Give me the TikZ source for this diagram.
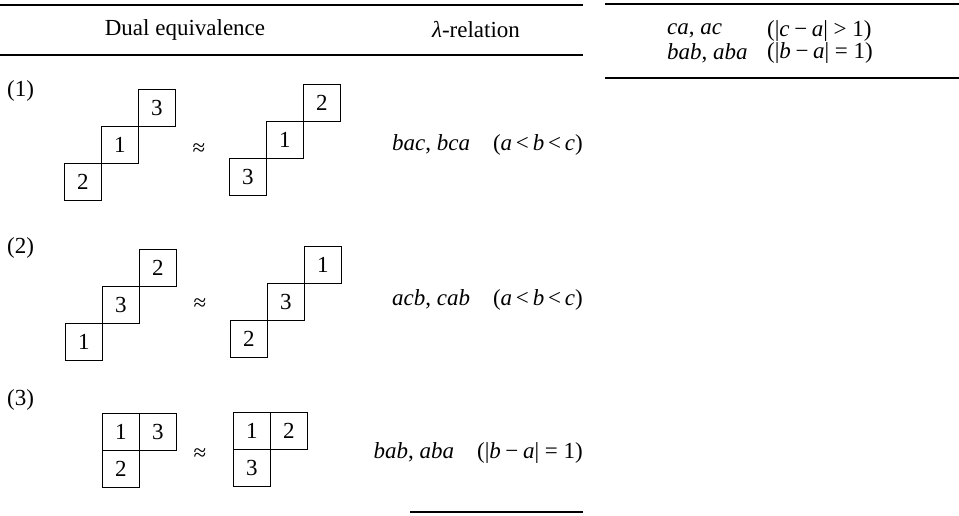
\documentclass[tikz,border=0pt]{standalone}
\usepackage{fontspec}
\setmainfont{Liberation Serif}
% spacing around binary operators and relations in the formulas
\newcommand{\opsp}{\hspace{0.2em}}
\newcommand{\relsp}{\hspace{0.25em}}
\begin{document}
\begin{tikzpicture}[x=1pt,y=-1pt,
  every node/.style={font=\fontsize{23}{25}\selectfont},
  cell/.style={draw, line width=0.8pt, minimum size=37pt, inner sep=0pt, anchor=north west},
  rule/.style={line width=1.2pt},
  lbl/.style={anchor=west, inner sep=0pt},
  rel/.style={anchor=east, inner sep=0pt}]
\useasboundingbox (0,0) rectangle (959,515);

% left table: rules and column heads
\draw[rule] (0,5) -- (583,5);
\node (hdual) at (185,30) {Dual equivalence};
\node (hlam) at (476,30) {\textit{λ}-relation};
\draw[rule] (0,55) -- (583,55);

% right table
\draw[rule] (605,4) -- (959,4);
\node[lbl] (r1a) at (667,31) {\textit{ca}, \textit{ac}};
\node[lbl] (r1b) at (767,31) {(|\textit{c}\opsp−\opsp\textit{a}|\relsp>\relsp1)};
\node[lbl] (r2a) at (667,53) {\textit{bab}, \textit{aba}};
\node[lbl] (r2b) at (767,53) {(|\textit{b}\opsp−\opsp\textit{a}|\relsp=\relsp1)};
\draw[rule] (605,78) -- (959,78);

% row (1)
\node[lbl] (n1) at (7,91) {(1)};
\node[cell] (p1c) at (138,89) {3};
\node[cell] (p1b) at (101,126) {1};
\node[cell] (p1a) at (64,163) {2};
\node (e1) at (199,150) {≈};
\node[cell] (q1c) at (303,84) {2};
\node[cell] (q1b) at (266,121) {1};
\node[cell] (q1a) at (229,158) {3};
\node[rel] (t1) at (583,145) {\textit{bac}, \textit{bca}\quad(\textit{a}\,<\,\textit{b}\,<\,\textit{c})};

% row (2)
\node[lbl] (n2) at (7,248) {(2)};
\node[cell] (p2c) at (139,249) {2};
\node[cell] (p2b) at (102,286) {3};
\node[cell] (p2a) at (65,323) {1};
\node (e2) at (200,305) {≈};
\node[cell] (q2c) at (304,246) {1};
\node[cell] (q2b) at (267,283) {3};
\node[cell] (q2a) at (230,320) {2};
\node[rel] (t2) at (583,300) {\textit{acb}, \textit{cab}\quad(\textit{a}\,<\,\textit{b}\,<\,\textit{c})};

% row (3)
\node[lbl] (n3) at (7,400) {(3)};
\node[cell] (p3a) at (102,413) {1};
\node[cell] (p3b) at (139,413) {3};
\node[cell] (p3c) at (102,450) {2};
\node (e3) at (200,455) {≈};
\node[cell] (q3a) at (233,412) {1};
\node[cell] (q3b) at (270,412) {2};
\node[cell] (q3c) at (233,449) {3};
\node[rel] (t3) at (583,453) {\textit{bab}, \textit{aba}\quad(|\textit{b}\opsp−\opsp\textit{a}|\relsp=\relsp1)};

% closing rule of the left table
\draw[rule] (410,512) -- (583,512);
\end{tikzpicture}
\end{document}
